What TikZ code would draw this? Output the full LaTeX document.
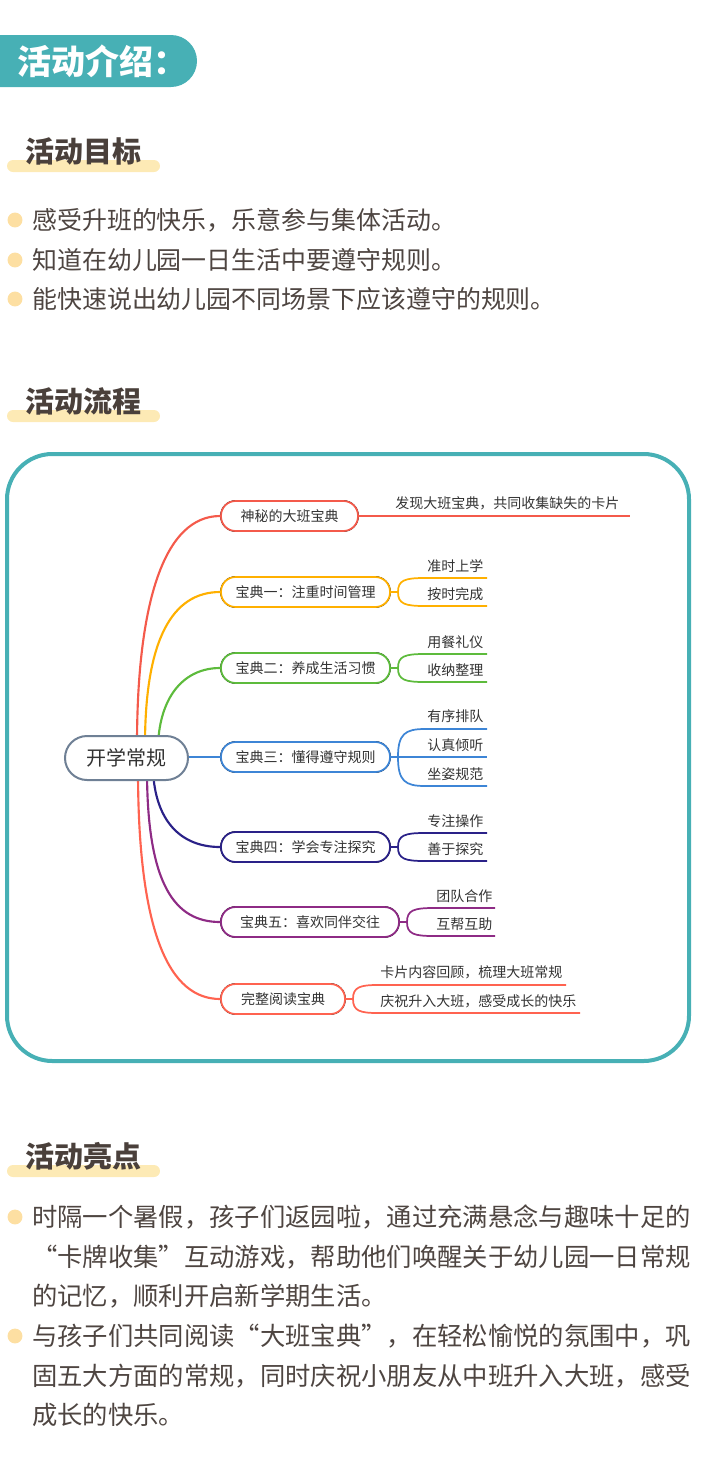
\documentclass[tikz,border=0pt]{standalone}
\usepackage{fontspec}
\setmainfont{Noto Sans CJK SC}[RawFeature=+fwid]
\definecolor{teal}{HTML}{47B0B5}
\definecolor{headtext}{HTML}{4A403B}
\definecolor{bodytext}{HTML}{4E4541}
\definecolor{barc}{HTML}{FDEAB5}
\definecolor{dotc}{HTML}{FDDFA2}
\definecolor{mmtext}{HTML}{333333}
\definecolor{rootc}{HTML}{6F8095}
\definecolor{cA}{HTML}{F45A4B}
\definecolor{cB}{HTML}{FFB000}
\definecolor{cC}{HTML}{5DBB3C}
\definecolor{cD}{HTML}{3D85D6}
\definecolor{cE}{HTML}{2A2188}
\definecolor{cF}{HTML}{8E2B85}
\definecolor{cG}{HTML}{FF6350}
\begin{document}
\begin{tikzpicture}[x=0.75pt,y=-0.75pt,
  heading/.style={anchor=base west, inner sep=0pt, text=headtext, font=\bfseries\fontsize{21.75pt}{24pt}\selectfont},
  bar/.style={fill=barc, rounded corners=4.5pt},
  dot/.style={fill=dotc},
  bodyA/.style={anchor=base west, inner sep=0pt, text=bodytext, font=\fontsize{18.7pt}{20pt}\selectfont},
  bodyB/.style={anchor=base west, inner sep=0pt, text=bodytext, font=\fontsize{19pt}{20pt}\selectfont},
  branch/.style={draw, line width=1.3pt, rounded corners=11pt, minimum height=22.5pt, inner sep=0pt, text=mmtext, fill=white, font=\fontsize{10.5pt}{12pt}\selectfont, text height=9.2pt, text depth=1.3pt},
  leaf/.style={anchor=base west, inner sep=0pt, text=mmtext, font=\fontsize{10.5pt}{12pt}\selectfont},
  conn/.style={line width=1.6pt},
  sub/.style={line width=1.3pt},
]
\path[use as bounding box] (0,0) rectangle (700,1467);

% header
\fill[teal, rounded corners=19.5pt] (-40,35) rectangle (197,87);
\node[anchor=base west, inner sep=0pt, text=white, font=\bfseries\fontsize{25.5pt}{28pt}\selectfont] (title) at (17,74) {活动介绍：};

% section 1
\fill[bar] (7,160) rectangle (160,172);
\node[heading] (h1) at (25,162.5) {活动目标};
\fill[dot] (15,220) circle[radius=5.6pt];
\fill[dot] (15,260) circle[radius=5.6pt];
\fill[dot] (15,299) circle[radius=5.6pt];
\node[bodyA] (t1) at (32,229.5) {感受升班的快乐，乐意参与集体活动。};
\node[bodyA] (t2) at (32,269.5) {知道在幼儿园一日生活中要遵守规则。};
\node[bodyA] (t3) at (32,308.5) {能快速说出幼儿园不同场景下应该遵守的规则。};

% section 2
\fill[bar] (7,410) rectangle (160,422);
\node[heading] (h2) at (25,412.5) {活动流程};
\draw[teal, line width=3pt, rounded corners=34pt] (7,454) rectangle (689,1061);

% mind map connectors from root
\coordinate (sA) at (137,745);
\coordinate (sB) at (145,745);
\coordinate (sC) at (158,745);
\coordinate (sD) at (150,757);
\coordinate (sE) at (153,770);
\coordinate (sF) at (147,770);
\coordinate (sG) at (138,770);

\node[branch, minimum width=102.75pt] (bA) at (289.5,516) {神秘的大班宝典};
\node[branch, minimum width=126.75pt] (bB) at (305.5,592) {宝典一：注重时间管理};
\node[branch, minimum width=126.75pt] (bC) at (305.5,668) {宝典二：养成生活习惯};
\node[branch, minimum width=126.75pt] (bD) at (305.5,757) {宝典三：懂得遵守规则};
\node[branch, minimum width=126.75pt] (bE) at (305.5,847) {宝典四：学会专注探究};
\node[branch, minimum width=133.5pt] (bF) at (310,922) {宝典五：喜欢同伴交往};
\node[branch, minimum width=93pt] (bG) at (283,999) {完整阅读宝典};

\draw[conn, cA] (sA) .. controls (137,600) and (165,516) .. (bA.west);
\draw[conn, cB] (sB) .. controls (145,640) and (172,592) .. (bB.west);
\draw[conn, cC] (sC) .. controls (160,695) and (185,668) .. (bC.west);
\draw[conn, cD] (sD) -- (bD.west);
\draw[conn, cE] (sE) .. controls (155,820) and (180,847) .. (bE.west);
\draw[conn, cF] (sF) .. controls (147,885) and (175,922) .. (bF.west);
\draw[conn, cG] (sG) .. controls (138,935) and (170,999) .. (bG.west);

\node[draw=rootc, line width=1.5pt, fill=white, rounded corners=16.5pt, minimum width=92.25pt, minimum height=33pt, inner sep=0pt, text=mmtext, font=\fontsize{15pt}{17pt}\selectfont, text height=13.2pt, text depth=1.8pt] (root) at (126.5,758) {开学常规};

% redraw branch nodes on top
\node[branch, draw=cA, minimum width=102.75pt] at (bA) {神秘的大班宝典};
\node[branch, draw=cB, minimum width=126.75pt] at (bB) {宝典一：注重时间管理};
\node[branch, draw=cC, minimum width=126.75pt] at (bC) {宝典二：养成生活习惯};
\node[branch, draw=cD, minimum width=126.75pt] at (bD) {宝典三：懂得遵守规则};
\node[branch, draw=cE, minimum width=126.75pt] at (bE) {宝典四：学会专注探究};
\node[branch, draw=cF, minimum width=133.5pt] at (bF) {宝典五：喜欢同伴交往};
\node[branch, draw=cG, minimum width=93pt] at (bG) {完整阅读宝典};

% leaves
\node[leaf] (kA1) at (395,508.5) {发现大班宝典，共同收集缺失的卡片};
\draw[sub, cA] (bA.east) -- (630,516);

\node[leaf] (kB1) at (427,571) {准时上学};
\node[leaf] (kB2) at (427,599) {按时完成};
\coordinate (fB) at (398,592);
\draw[sub, cB] (bB.east) -- (fB) .. controls (398,580) and (405,578) .. (425,578) -- (487,578);
\draw[sub, cB] (fB) .. controls (398,604) and (405,606) .. (425,606) -- (487,606);

\node[leaf] (kC1) at (427,647) {用餐礼仪};
\node[leaf] (kC2) at (427,675) {收纳整理};
\coordinate (fC) at (398,668);
\draw[sub, cC] (bC.east) -- (fC) .. controls (398,656) and (405,654) .. (425,654) -- (487,654);
\draw[sub, cC] (fC) .. controls (398,680) and (405,682) .. (425,682) -- (487,682);

\node[leaf] (kD1) at (427,721.5) {有序排队};
\node[leaf] (kD2) at (427,750) {认真倾听};
\node[leaf] (kD3) at (427,779) {坐姿规范};
\coordinate (fD) at (398,757);
\draw[sub, cD] (bD.east) -- (fD) .. controls (398,734) and (405,729) .. (425,729) -- (487,729);
\draw[sub, cD] (fD) -- (487,757);
\draw[sub, cD] (fD) .. controls (398,781) and (405,786) .. (425,786) -- (487,786);

\node[leaf] (kE1) at (427,826) {专注操作};
\node[leaf] (kE2) at (427,854) {善于探究};
\coordinate (fE) at (398,847);
\draw[sub, cE] (bE.east) -- (fE) .. controls (398,835) and (405,833) .. (425,833) -- (487,833);
\draw[sub, cE] (fE) .. controls (398,859) and (405,861) .. (425,861) -- (487,861);

\node[leaf] (kF1) at (436,901) {团队合作};
\node[leaf] (kF2) at (436,929) {互帮互助};
\coordinate (fF) at (407,922);
\draw[sub, cF] (bF.east) -- (fF) .. controls (407,910) and (414,908) .. (434,908) -- (495,908);
\draw[sub, cF] (fF) .. controls (407,934) and (414,936) .. (434,936) -- (495,936);

\node[leaf] (kG1) at (380,977.5) {卡片内容回顾，梳理大班常规};
\node[leaf] (kG2) at (380,1006) {庆祝升入大班，感受成长的快乐};
\coordinate (fG) at (353,999);
\draw[sub, cG] (bG.east) -- (fG) .. controls (353,987) and (360,985) .. (378,985) -- (566,985);
\draw[sub, cG] (fG) .. controls (353,1011) and (360,1013) .. (378,1013) -- (580,1013);

% section 3
\fill[bar] (7,1165) rectangle (160,1177);
\node[heading] (h3) at (25,1167.5) {活动亮点};
\fill[dot] (15,1217) circle[radius=5.6pt];
\fill[dot] (15,1336) circle[radius=5.6pt];
\node[bodyB] (u1) at (32,1226.6) {时隔一个暑假，孩子们返园啦，通过充满悬念与趣味十足的};
\node[bodyB] (u2) at (32,1266.6) {“卡牌收集”互动游戏，帮助他们唤醒关于幼儿园一日常规};
\node[bodyB] (u3) at (32,1305.6) {的记忆，顺利开启新学期生活。};
\node[bodyB] (u4) at (32,1345.6) {与孩子们共同阅读“大班宝典”，在轻松愉悦的氛围中，巩};
\node[bodyB] (u5) at (32,1385.6) {固五大方面的常规，同时庆祝小朋友从中班升入大班，感受};
\node[bodyB] (u6) at (32,1424.6) {成长的快乐。};
\end{tikzpicture}
\end{document}
